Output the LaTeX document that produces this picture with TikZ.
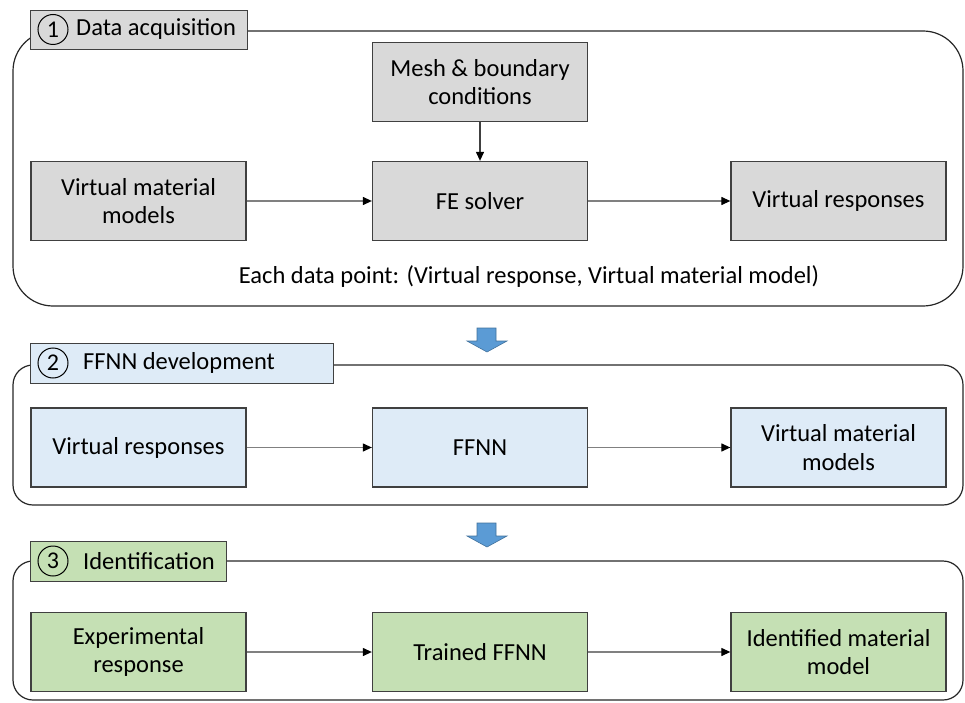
\documentclass[tikz,border=0pt]{standalone}
\usepackage{fontspec}
\setmainfont{Carlito}
\usetikzlibrary{arrows.meta,positioning}
\definecolor{boxgray}{RGB}{217,217,217}
\definecolor{boxblue}{RGB}{222,235,247}
\definecolor{boxgreen}{RGB}{197,224,180}
\definecolor{edgegray}{RGB}{64,64,64}
\definecolor{linegray}{RGB}{128,128,128}
\definecolor{arrowblue}{RGB}{91,155,213}
\definecolor{arrowedge}{RGB}{65,113,156}
\tikzset{
  stepbox/.style={draw=edgegray, line width=1.3pt, minimum width=215pt, minimum height=79pt, align=center, inner sep=2pt, font=\fontsize{24.5}{28.5}\selectfont},
  tabbox/.style={draw=edgegray, line width=1.2pt, anchor=north west, inner sep=0pt},
  panel/.style={draw=black!85, line width=1.2pt},
  numcirc/.style={circle, draw=black, line width=1pt, minimum size=30pt, inner sep=0pt, font=\fontsize{24}{26}\selectfont},
  tabtext/.style={anchor=west, inner sep=0pt, font=\fontsize{24.5}{28}\selectfont},
  flow/.style={draw=linegray, line width=1.2pt, -{Triangle[color=black,length=9pt,width=8pt]}},
  blockarrow/.style={fill=arrowblue, draw=arrowedge, line width=0.6pt},
}
\begin{document}
\begin{tikzpicture}[x=1pt,y=-1pt]
\useasboundingbox (0,0) rectangle (965,703);
% panels
\draw[panel, rounded corners=40pt] (13,31) rectangle (963,306);
\draw[panel, rounded corners=20pt] (13,365) rectangle (963,505);
\draw[panel, rounded corners=20pt] (13,561) rectangle (963,700);
% tabs
\node[tabbox, fill=boxgray, minimum width=217pt, minimum height=39pt] (tab1) at (30,10) {};
\node[numcirc] (n1) at (53,29.5) {1};
\node[tabtext] (t1) at (76,29.5) {Data acquisition};
\node[tabbox, fill=boxblue, minimum width=303pt, minimum height=40pt] (tab2) at (30,343) {};
\node[numcirc] (n2) at (53,363) {2};
\node[tabtext] (t2) at (83,363) {FFNN development};
\node[tabbox, fill=boxgreen, minimum width=196pt, minimum height=40pt] (tab3) at (30,541) {};
\node[numcirc] (n3) at (53,561) {3};
\node[tabtext] (t3) at (83,561) {Identification};
% panel 1
\node[stepbox, fill=boxgray] (mesh) at (480,82) {Mesh \& boundary\\conditions};
\node[stepbox, fill=boxgray] (vmm1) at (138.5,201) {Virtual material\\models};
\node[stepbox, fill=boxgray] (fe) at (480,201) {FE solver};
\node[stepbox, fill=boxgray] (vr1) at (838.5,201) {Virtual responses};
\node[inner sep=0pt, font=\fontsize{24.5}{28}\selectfont] (each) at (529,277) {Each data point: (Virtual response, Virtual material model)};
\draw[flow, draw=edgegray] (mesh) -- (fe);
\draw[flow] (vmm1) -- (fe);
\draw[flow] (fe) -- (vr1);
% panel 2
\node[stepbox, fill=boxblue] (vr2) at (138.5,447.5) {Virtual responses};
\node[stepbox, fill=boxblue] (ffnn) at (480,447.5) {FFNN};
\node[stepbox, fill=boxblue] (vmm2) at (838.5,447.5) {Virtual material\\models};
\draw[flow] (vr2) -- (ffnn);
\draw[flow] (ffnn) -- (vmm2);
% panel 3
\node[stepbox, fill=boxgreen] (exp) at (138.5,652) {Experimental\\response};
\node[stepbox, fill=boxgreen] (tffnn) at (480,652) {Trained FFNN};
\node[stepbox, fill=boxgreen] (idm) at (838.5,652) {Identified material\\model};
\draw[flow] (exp) -- (tffnn);
\draw[flow] (tffnn) -- (idm);
% block arrows
\draw[blockarrow] (477,328) -- (496,328) -- (496,341) -- (507,341) -- (487,352) -- (467,341) -- (477,341) -- cycle;
\draw[blockarrow] (477,523) -- (496,523) -- (496,536) -- (507,536) -- (487,547) -- (467,536) -- (477,536) -- cycle;
\end{tikzpicture}
\end{document}
